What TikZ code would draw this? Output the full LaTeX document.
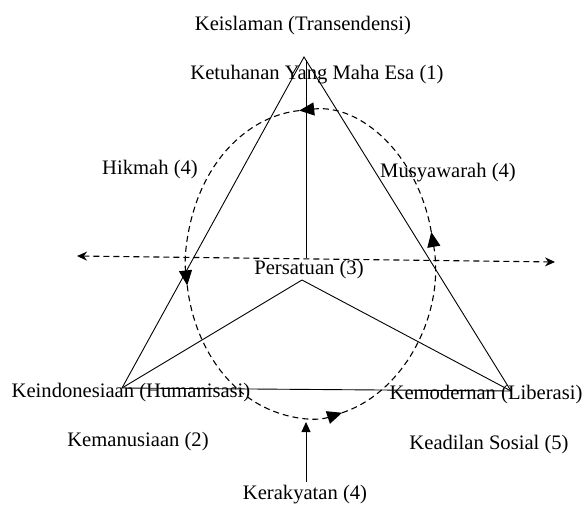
\documentclass[tikz,border=0pt]{standalone}
\usepackage{fontspec}
\setmainfont{Liberation Serif}
\usetikzlibrary{arrows.meta,calc}
\begin{document}
\begin{tikzpicture}[x=1pt,y=1pt,
  lbl/.style={inner sep=0pt,font=\fontsize{20.6}{23}\selectfont},
  solidln/.style={line width=0.9pt},
  dashln/.style={line width=1.1pt,dash pattern=on 6pt off 4pt},
  bigtip/.style={-{Triangle[length=15pt,width=13pt]}},
  ]
\useasboundingbox (0,0) rectangle (585,504);
% key points
\coordinate (A) at (304,447);
\coordinate (L) at (122,116);
\coordinate (R) at (511,113);
\coordinate (O) at (302,224);
\coordinate (V) at (306,246);
\coordinate (Vt) at (306,444);
\coordinate (HL) at (77,248);
\coordinate (HR) at (555,242);
\coordinate (C) at (310,240);
\coordinate (Kb) at (306,22);
\coordinate (Kt) at (306,82);
% triangle
\draw[solidln] (A) -- (L) -- (R) -- cycle;
\draw[solidln] (O) -- (L);
\draw[solidln] (O) -- (R);
\draw[solidln] (V) -- (Vt);
% horizontal dashed axis
\draw[dashln,{Stealth[length=10pt,width=9pt]}-{Stealth[length=10pt,width=9pt]}] (HL) -- (HR);
% dashed ellipse with arrows
\draw[dashln,bigtip] (C) ++(-75:124pt and 154pt) arc[start angle=-75,end angle=12,x radius=124pt,y radius=154pt];
\draw[dashln,bigtip] (C) ++(12:124pt and 154pt) arc[start angle=12,end angle=95,x radius=124pt,y radius=154pt];
\draw[dashln,bigtip] (C) ++(95:124pt and 154pt) arc[start angle=95,end angle=188,x radius=124pt,y radius=154pt];
\draw[dashln,bigtip] (C) ++(188:124pt and 154pt) arc[start angle=188,end angle=285,x radius=124pt,y radius=154pt];
% bottom arrow
\draw[solidln,-{Triangle[length=10pt,width=9pt]}] (Kb) -- (Kt);
% labels
\node[lbl] (t1) at (303,478) {Keislaman (Transendensi)};
\node[lbl] (t2) at (317,429) {Ketuhanan Yang Maha Esa (1)};
\node[lbl] (t3) at (150,334) {Hikmah (4)};
\node[lbl] (t4) at (448,331) {Musyawarah (4)};
\node[lbl] (t5) at (309,234) {Persatuan (3)};
\node[lbl] (t6) at (131,111) {Keindonesiaan (Humanisasi)};
\node[lbl] (t7) at (486,109) {Kemodernan (Liberasi)};
\node[lbl] (t8) at (138,62) {Kemanusiaan (2)};
\node[lbl] (t9) at (489,59) {Keadilan Sosial (5)};
\node[lbl] (t10) at (305,9) {Kerakyatan (4)};
\end{tikzpicture}
\end{document}
